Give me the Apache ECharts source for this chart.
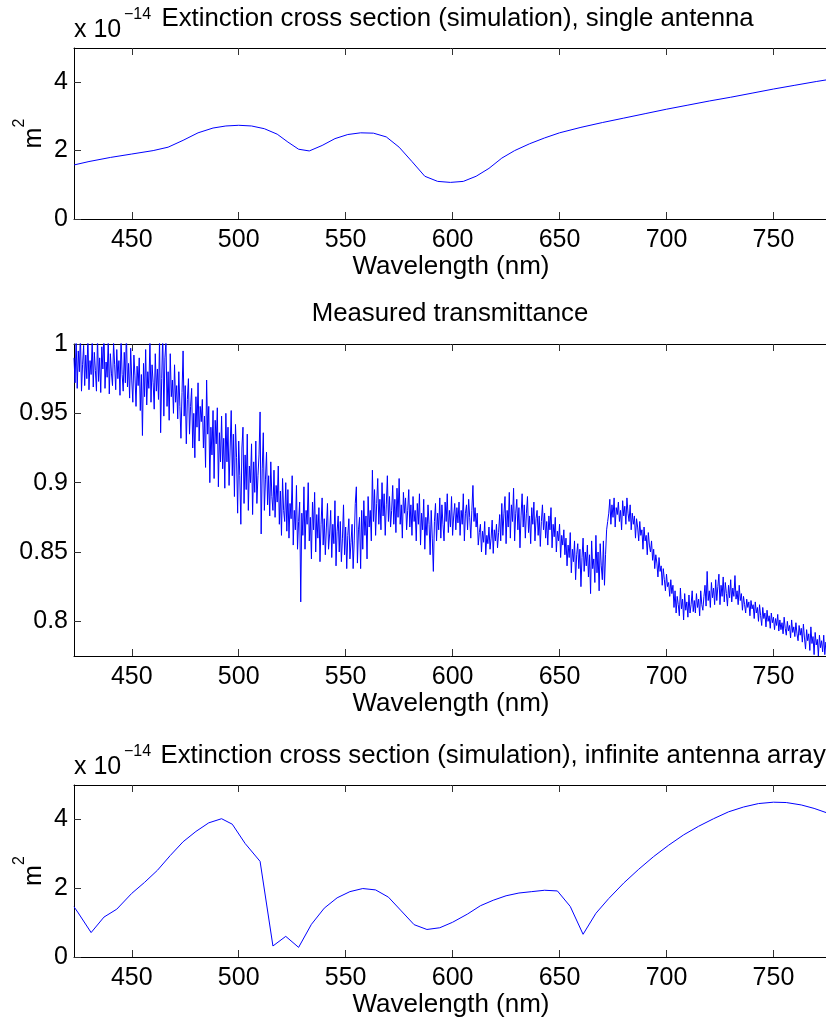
<!DOCTYPE html>
<html>
<head>
<meta charset="utf-8">
<title>Extinction / transmittance</title>
<script src="https://cdn.jsdelivr.net/npm/echarts@6/dist/echarts.min.js"></script>
<style>
  html, body { margin: 0; padding: 0; background: #fff; }
  #chart { width: 826px; height: 1021px; }
</style>
</head>
<body>
<div id="chart"></div>
<script>
// ---- data ----
const xTicks = [450, 500, 550, 600, 650, 700, 750]
const extTicks = [0, 2, 4]
const transTicks = [0.8, 0.85, 0.9, 0.95, 1]

// single antenna, x 10^-14 m^2
const singleWl = [423, 430, 440, 450, 460, 467, 474, 481, 488, 494, 500, 506, 512, 518, 523, 528, 533, 539, 545, 551,
  557, 563, 569, 575, 581, 587, 593, 599, 605, 611, 617, 623, 629, 636, 643, 650, 660, 670, 680, 690,
  700, 710, 720, 730, 740, 750, 760, 770, 775]
const singleExt = [1.58, 1.68, 1.80, 1.90, 2.00, 2.10, 2.30, 2.52, 2.66, 2.72, 2.74, 2.72, 2.64, 2.48, 2.25, 2.04, 1.99, 2.15, 2.35, 2.47,
  2.52, 2.51, 2.40, 2.10, 1.68, 1.25, 1.10, 1.07, 1.10, 1.25, 1.48, 1.78, 2.00, 2.20, 2.37, 2.52, 2.68, 2.82, 2.95, 3.08,
  3.21, 3.33, 3.45, 3.56, 3.68, 3.80, 3.91, 4.02, 4.07]

// infinite antenna array, x 10^-14 m^2
const arrayWl = [423, 425, 431, 437, 443, 450, 456, 462, 468, 474, 480, 486, 492, 497, 503, 510, 516, 522, 528, 534,
  540, 546, 552, 558, 564, 570, 576, 582, 588, 594, 600, 607, 613, 619, 625, 631, 637, 643, 649, 655,
  661, 667, 673, 680, 687, 694, 701, 708, 715, 722, 729, 736, 743, 750, 756, 763, 769, 775]
const arrayExt = [1.46, 1.28, 0.71, 1.16, 1.39, 1.85, 2.17, 2.52, 2.95, 3.35, 3.65, 3.90, 4.02, 3.86, 3.30, 2.78, 0.32, 0.60, 0.28, 0.95,
  1.42, 1.72, 1.90, 1.99, 1.95, 1.74, 1.34, 0.94, 0.80, 0.85, 1.01, 1.25, 1.49, 1.65, 1.78, 1.86, 1.90, 1.94, 1.92, 1.47,
  0.66, 1.27, 1.70, 2.15, 2.55, 2.92, 3.25, 3.55, 3.80, 4.02, 4.22, 4.36, 4.46, 4.50, 4.49, 4.42, 4.32, 4.19]

// measured transmittance, sampled every 0.5 nm from 423 nm
const transWlStart = 423
const transWlStep = 0.5
const transValues = [
  0.990, 0.972, 1.004, 0.968, 0.995, 0.980, 1.008, 0.966, 0.985, 0.999, 0.970, 0.992, 0.975, 1.006, 0.967, 0.988, 0.978, 1.002, 0.969, 0.994,
  0.981, 0.966, 1.005, 0.973, 0.990, 0.965, 0.998, 0.982, 1.010, 0.968, 0.987, 0.976, 1.003, 0.964, 0.993, 0.979, 0.970, 1.001, 0.985, 0.967,
  0.996, 0.975, 0.988, 0.963, 1.004, 0.978, 0.966, 0.994, 0.972, 1.009, 0.969, 0.986, 0.961, 0.997, 0.974, 0.958, 0.992, 0.977, 0.955, 0.984,
  0.970, 0.990, 0.952, 0.978, 0.934, 0.986, 0.962, 0.996, 0.956, 0.980, 0.968, 1.003, 0.958, 0.985, 0.972, 0.953, 0.993, 0.966, 0.982, 0.960,
  1.004, 0.936, 0.975, 1.008, 0.948, 0.990, 1.002, 0.955, 0.980, 0.945, 0.993, 0.962, 0.974, 0.950, 0.985, 0.958, 0.970, 0.946, 0.980, 0.955,
  0.932, 0.965, 0.995, 0.948, 0.970, 0.928, 0.960, 0.975, 0.935, 0.955, 0.968, 0.925, 0.950, 0.918, 0.962, 0.940, 0.972, 0.930, 0.955, 0.944,
  0.960, 0.925, 0.948, 0.911, 0.974, 0.935, 0.955, 0.900, 0.940, 0.920, 0.952, 0.903, 0.945, 0.928, 0.954, 0.897, 0.936, 0.915, 0.948, 0.910,
  0.932, 0.896, 0.950, 0.915, 0.940, 0.898, 0.925, 0.952, 0.905, 0.935, 0.890, 0.942, 0.918, 0.878, 0.930, 0.905, 0.870, 0.925, 0.940, 0.885,
  0.920, 0.895, 0.935, 0.880, 0.912, 0.900, 0.928, 0.877, 0.915, 0.893, 0.930, 0.885, 0.905, 0.920, 0.951, 0.863, 0.910, 0.936, 0.880, 0.902,
  0.922, 0.884, 0.905, 0.876, 0.915, 0.890, 0.880, 0.909, 0.875, 0.898, 0.886, 0.912, 0.870, 0.894, 0.862, 0.903, 0.880, 0.872, 0.900, 0.865,
  0.895, 0.860, 0.885, 0.874, 0.905, 0.855, 0.880, 0.866, 0.898, 0.852, 0.872, 0.886, 0.814, 0.878, 0.862, 0.897, 0.852, 0.880, 0.870, 0.900,
  0.858, 0.875, 0.845, 0.886, 0.866, 0.893, 0.850, 0.877, 0.860, 0.882, 0.843, 0.870, 0.889, 0.855, 0.874, 0.848, 0.868, 0.885, 0.852, 0.863,
  0.880, 0.846, 0.870, 0.856, 0.887, 0.840, 0.865, 0.876, 0.850, 0.872, 0.843, 0.860, 0.884, 0.848, 0.868, 0.838, 0.862, 0.874, 0.845, 0.857,
  0.870, 0.838, 0.858, 0.885, 0.897, 0.842, 0.866, 0.875, 0.838, 0.880, 0.852, 0.887, 0.862, 0.876, 0.845, 0.890, 0.868, 0.880, 0.858, 0.909,
  0.872, 0.895, 0.862, 0.885, 0.903, 0.870, 0.888, 0.866, 0.900, 0.876, 0.892, 0.862, 0.884, 0.905, 0.872, 0.890, 0.868, 0.880, 0.898, 0.870,
  0.888, 0.864, 0.896, 0.875, 0.903, 0.870, 0.884, 0.860, 0.893, 0.878, 0.889, 0.866, 0.880, 0.895, 0.868, 0.884, 0.862, 0.890, 0.872, 0.880,
  0.858, 0.885, 0.870, 0.892, 0.855, 0.878, 0.866, 0.888, 0.852, 0.875, 0.862, 0.884, 0.870, 0.848, 0.880, 0.860, 0.836, 0.872, 0.885, 0.858,
  0.878, 0.866, 0.889, 0.860, 0.884, 0.870, 0.858, 0.886, 0.872, 0.892, 0.864, 0.880, 0.868, 0.890, 0.862, 0.876, 0.885, 0.866, 0.882, 0.871,
  0.886, 0.862, 0.880, 0.870, 0.892, 0.858, 0.878, 0.884, 0.866, 0.888, 0.875, 0.860, 0.880, 0.898, 0.872, 0.882, 0.868, 0.878, 0.855, 0.864,
  0.870, 0.850, 0.865, 0.857, 0.872, 0.848, 0.862, 0.856, 0.868, 0.852, 0.860, 0.873, 0.849, 0.866, 0.858, 0.870, 0.853, 0.864, 0.877, 0.858,
  0.885, 0.862, 0.878, 0.890, 0.856, 0.880, 0.868, 0.893, 0.860, 0.884, 0.872, 0.896, 0.858, 0.878, 0.888, 0.866, 0.882, 0.853, 0.876, 0.892,
  0.868, 0.884, 0.860, 0.878, 0.890, 0.864, 0.876, 0.856, 0.882, 0.870, 0.886, 0.858, 0.874, 0.880, 0.862, 0.876, 0.854, 0.872, 0.884, 0.866,
  0.878, 0.860, 0.872, 0.855, 0.876, 0.866, 0.882, 0.853, 0.870, 0.861, 0.875, 0.850, 0.865, 0.858, 0.870, 0.846, 0.862, 0.855, 0.866, 0.848,
  0.860, 0.840, 0.855, 0.846, 0.864, 0.835, 0.852, 0.843, 0.858, 0.830, 0.848, 0.856, 0.838, 0.852, 0.825, 0.846, 0.860, 0.836, 0.850, 0.840,
  0.855, 0.832, 0.848, 0.820, 0.858, 0.838, 0.845, 0.828, 0.862, 0.835, 0.850, 0.822, 0.856, 0.840, 0.830, 0.858, 0.826, 0.848, 0.866, 0.872,
  0.878, 0.888, 0.870, 0.884, 0.875, 0.889, 0.868, 0.882, 0.877, 0.886, 0.872, 0.880, 0.866, 0.887, 0.876, 0.883, 0.870, 0.889, 0.878, 0.872,
  0.884, 0.866, 0.878, 0.870, 0.876, 0.860, 0.874, 0.868, 0.858, 0.872, 0.862, 0.866, 0.852, 0.868, 0.858, 0.862, 0.848, 0.864, 0.855, 0.850,
  0.858, 0.844, 0.852, 0.838, 0.848, 0.842, 0.832, 0.846, 0.836, 0.840, 0.826, 0.838, 0.830, 0.822, 0.834, 0.825, 0.828, 0.818, 0.830, 0.820,
  0.826, 0.810, 0.822, 0.806, 0.818, 0.812, 0.804, 0.824, 0.809, 0.816, 0.801, 0.820, 0.808, 0.814, 0.803, 0.819, 0.806, 0.812, 0.822, 0.807,
  0.815, 0.806, 0.820, 0.810, 0.816, 0.804, 0.822, 0.812, 0.808, 0.818, 0.826, 0.811, 0.836, 0.815, 0.822, 0.810, 0.828, 0.817, 0.824, 0.812,
  0.830, 0.815, 0.825, 0.834, 0.812, 0.826, 0.818, 0.832, 0.814, 0.828, 0.820, 0.811, 0.826, 0.817, 0.830, 0.814, 0.824, 0.818, 0.833, 0.816,
  0.822, 0.812, 0.826, 0.815, 0.820, 0.808, 0.818, 0.812, 0.806, 0.816, 0.810, 0.814, 0.804, 0.815, 0.809, 0.812, 0.802, 0.814, 0.806, 0.810,
  0.800, 0.812, 0.804, 0.797, 0.810, 0.802, 0.806, 0.796, 0.808, 0.800, 0.804, 0.795, 0.806, 0.799, 0.803, 0.794, 0.802, 0.797, 0.805, 0.793,
  0.801, 0.794, 0.799, 0.791, 0.803, 0.795, 0.790, 0.800, 0.793, 0.797, 0.788, 0.801, 0.792, 0.796, 0.789, 0.799, 0.791, 0.786, 0.797, 0.790,
  0.795, 0.785, 0.798, 0.788, 0.780, 0.794, 0.786, 0.791, 0.779, 0.796, 0.784, 0.789, 0.776, 0.792, 0.783, 0.787, 0.775, 0.790, 0.781, 0.786,
  0.778, 0.790, 0.776, 0.785, 0.780
]

// ---- layout ----
const FONT = '"Liberation Sans", Arial, Helvetica, sans-serif'
const plotLeft = 74
const plotWidth = 754 // right edge falls just outside the canvas, as in the original crop
const panels = [
  { top: 48, height: 171, min: 0, max: 5, ticks: extTicks },
  { top: 344, height: 312, min: 0.775, max: 1, ticks: transTicks },
  { top: 785, height: 172, min: 0, max: 5, ticks: extTicks }
]

const zip = (xs, ys) => xs.map((x, i) => [x, ys[i]])
const transData = transValues.map((v, i) => [transWlStart + i * transWlStep, v])

function xAxisPair (gi) {
  const base = {
    type: 'value',
    gridIndex: gi,
    min: 423,
    max: 775.5,
    splitLine: { show: false },
    axisLine: { show: true, onZero: false, lineStyle: { color: '#000', width: 1 } },
    axisTick: { show: true, inside: true, length: 7, customValues: xTicks, lineStyle: { color: '#333', width: 1 } }
  }
  return [
    Object.assign({}, base, {
      position: 'bottom',
      axisLabel: { show: true, customValues: xTicks, margin: 9, fontSize: 25, color: '#000', fontFamily: FONT },
      name: 'Wavelength (nm)',
      nameLocation: 'middle',
      nameGap: 35,
      nameMoveOverlap: false,
      nameTextStyle: { fontSize: 26, color: '#000', fontFamily: FONT }
    }),
    Object.assign({}, base, { position: 'top', axisLabel: { show: false } })
  ]
}

function yAxisPair (gi) {
  const p = panels[gi]
  const base = {
    type: 'value',
    gridIndex: gi,
    min: p.min,
    max: p.max,
    splitLine: { show: false },
    axisLine: { show: true, onZero: false, lineStyle: { color: '#000', width: 1 } },
    axisTick: { show: true, inside: true, length: 7, customValues: p.ticks, lineStyle: { color: '#333', width: 1 } }
  }
  return [
    Object.assign({}, base, {
      position: 'left',
      axisLabel: { show: true, customValues: p.ticks, margin: 6, fontSize: 25, color: '#000', fontFamily: FONT }
    }),
    // right edge is cropped away in the original
    Object.assign({}, base, { position: 'right', show: false })
  ]
}

function lineSeries (gi, data) {
  return {
    type: 'line',
    xAxisIndex: gi * 2,
    yAxisIndex: gi * 2,
    data: data,
    showSymbol: false,
    clip: true,
    lineStyle: { color: '#0000ff', width: 1 },
    itemStyle: { color: '#0000ff' }
  }
}

function txt (x, y, text, size, align, rotation) {
  return {
    type: 'text',
    x: x,
    y: y,
    rotation: rotation || 0,
    style: {
      text: text,
      fill: '#000',
      font: size + 'px ' + FONT,
      textAlign: align,
      verticalAlign: 'middle',
      textVerticalAlign: 'middle'
    }
  }
}

// titles, exponent labels and the m^2 y-labels
function panelTexts () {
  const out = []
  ;[0, 2].forEach(gi => {
    const p = panels[gi]
    const mid = p.top + p.height / 2
    out.push(txt(plotLeft, p.top - 17.5, 'x 10', 25, 'left'))
    out.push(txt(124, p.top - 33, '\u221214', 16, 'left'))
    out.push(txt(34, mid + 4.5, 'm', 25, 'center', Math.PI / 2))
    out.push(txt(20, mid - 10.5, '2', 16, 'center', Math.PI / 2))
  })
  out.push(txt(161.5, 19.3, 'Extinction cross section (simulation), single antenna', 25.8, 'left'))
  out.push(txt(450, 314.3, 'Measured transmittance', 25.8, 'center'))
  out.push(txt(160.5, 756, 'Extinction cross section (simulation), infinite antenna array', 25.8, 'left'))
  return out
}

const chart = echarts.init(document.getElementById('chart'), null, { renderer: 'canvas' })
chart.setOption({
  animation: false,
  backgroundColor: '#fff',
  grid: panels.map(p => ({
    left: plotLeft,
    top: p.top,
    width: plotWidth,
    height: p.height,
    containLabel: false,
    outerBoundsMode: 'none'
  })),
  xAxis: [].concat(xAxisPair(0), xAxisPair(1), xAxisPair(2)),
  yAxis: [].concat(yAxisPair(0), yAxisPair(1), yAxisPair(2)),
  series: [
    lineSeries(0, zip(singleWl, singleExt)),
    lineSeries(1, transData),
    lineSeries(2, zip(arrayWl, arrayExt))
  ],
  graphic: panelTexts()
})
</script>
</body>
</html>
